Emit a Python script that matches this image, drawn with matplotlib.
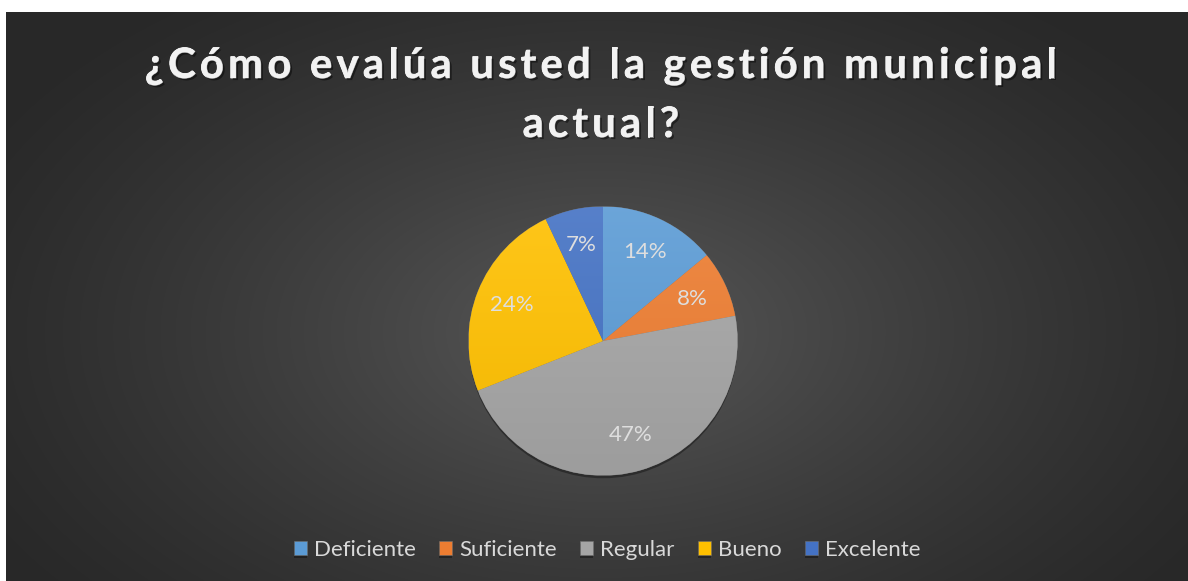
import numpy as np
import matplotlib
matplotlib.use("Agg")
import matplotlib.pyplot as plt
import matplotlib.patheffects as pe
import matplotlib.colors as mcolors

# datos
categorias = ["Deficiente", "Suficiente", "Regular", "Bueno", "Excelente"]
porcentajes = [14, 8, 47, 24, 7]
colores = ["#5B9BD5", "#ED7D31", "#A5A5A5", "#FFC000", "#4472C4"]
lineas_titulo = ["¿Cómo evalúa usted la gestión municipal", "actual?"]

W, H = 1188, 581
fig = plt.figure(figsize=(W / 100, H / 100), dpi=100)
fig.patch.set_facecolor("white")

# fondo con degradado radial
fondo = fig.add_axes([6 / W, 0, (W - 6) / W, (H - 12) / H])
xx, yy = np.meshgrid(np.arange(W - 6), np.arange(H - 12))
r = np.sqrt(((xx - 595) / 720.0) ** 2 + ((yy - 320) / 430.0) ** 2)
r = np.clip(r, 0, 1)
val = (40 + 48 * (1 - r) ** 1.3) / 255.0
fondo.imshow(np.dstack([val, val, val]), aspect="auto", interpolation="bilinear")
fondo.axis("off")

renderer = fig.canvas.get_renderer()


def ancho(s, **kw):
    t = fig.text(0, 0, s, **kw)
    w = t.get_window_extent(renderer).width
    t.remove()
    return w


def texto_espaciado(linea, xc, y_base, esp, **kw):
    '''dibuja una linea letra por letra con espaciado extra (px)'''
    pos = []
    for i, ch in enumerate(linea):
        if i == 0 or ch == " ":
            pos.append(0)
        else:
            pos.append(ancho(linea[:i] + ch, **kw) - ancho(ch, **kw))
    total = ancho(linea, **kw) + esp * (len(linea) - 1)
    x0 = xc - total / 2
    for i, ch in enumerate(linea):
        if ch == " ":
            continue
        fig.text((x0 + pos[i] + esp * i) / W, 1 - y_base / H, ch, ha="left", va="baseline", **kw)


# titulo
sombra = [pe.withStroke(linewidth=0.6, foreground="#f2f2f2"),
          pe.withSimplePatchShadow(offset=(1.5, -1.5), shadow_rgbFace="black", alpha=0.45)]
estilo = dict(fontsize=30, fontweight="bold", family="Lato", color="#f2f2f2", path_effects=sombra)
natural = ancho(lineas_titulo[0], **estilo)
esp = (912 - natural) / (len(lineas_titulo[0]) - 1)
texto_espaciado(lineas_titulo[0], 601, 78, esp, **estilo)
texto_espaciado(lineas_titulo[1], 601, 137, esp, **estilo)

# pastel
cx, cy, rad = 603, 341, 134.5
ax = fig.add_axes([(cx - rad) / W, (H - cy - rad) / H, 2 * rad / W, 2 * rad / H])
wedges, _, autotexts = ax.pie(porcentajes, colors=colores, startangle=90, counterclock=False,
                              autopct="%1.0f%%", pctdistance=0.73, radius=1,
                              wedgeprops=dict(linewidth=0.4, edgecolor="#707070"),
                              textprops=dict(color="#dedede", fontsize=16, family="Lato"))
for w, c in zip(wedges, colores):
    w.set_path_effects([pe.withSimplePatchShadow(offset=(0, -2), shadow_rgbFace="black", alpha=0.35)])
    # degradado suave vertical en cada porcion
    base = np.array(mcolors.to_rgb(c))
    t = np.linspace(0, 1, 100)[:, None]
    arriba = base + (1 - base) * 0.1
    abajo = base * 0.95
    grad = arriba * (1 - t) + abajo * t
    im = ax.imshow(grad[:, None, :].repeat(2, axis=1), extent=(-1, 1, -1, 1), aspect="auto",
                   interpolation="bilinear", zorder=w.get_zorder() + 0.1)
    im.set_clip_path(w)
for t in autotexts:
    t.set_zorder(5)
ax.set_xlim(-1, 1)
ax.set_ylim(-1, 1)
ax.axis("off")

# leyenda
fig.legend(wedges, categorias, loc="center", bbox_to_anchor=(607 / W, 1 - 550 / H), ncol=5,
           frameon=False, handlelength=0.6, handleheight=0.6, handletextpad=0.3,
           columnspacing=1.05, prop=dict(family="Lato", size=16), labelcolor="#d9d9d9")

fig.savefig("out.png", dpi=100, facecolor=fig.get_facecolor())
